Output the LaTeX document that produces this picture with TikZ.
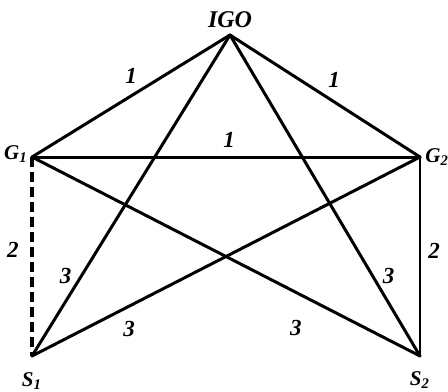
\documentclass[tikz,border=0pt]{standalone}
\usepackage{fontspec}
\setmainfont{Liberation Serif}
\usetikzlibrary{positioning}
\tikzset{
  kante/.style={line width=1.5pt, draw=black, line cap=round},
  kanted/.style={line width=1.6pt, draw=black, dash pattern=on 5pt off 2.5pt},
  kantes/.style={line width=1pt, draw=black},
  gew/.style={font=\fontsize{11.5}{13}\selectfont\bfseries\itshape, inner sep=0pt},
  knt/.style={font=\fontsize{10.5}{12}\selectfont\bfseries\itshape, inner sep=0pt},
  kntgr/.style={font=\fontsize{12}{14}\selectfont\bfseries\itshape, inner sep=0pt},
}

\begin{document}
\begin{tikzpicture}[x=0.5pt, y=-0.5pt]
  \useasboundingbox (0,0) rectangle (448,391);
  % Eckpunkte
  \coordinate (igo) at (230,35);
  \coordinate (g1) at (32,157);
  \coordinate (g2) at (420,157);
  \coordinate (s1) at (32,356);
  \coordinate (s2) at (420,356);
  % Beschriftung der Eckpunkte
  \node[kntgr, above=3.5pt of igo] (tigo) {IGO};
  \node[knt, left=2pt of g1, yshift=1.5pt] (tg1) {G\textsubscript{1}};
  \node[knt, right=2.5pt of g2] (tg2) {G\textsubscript{2}};
  \node[knt, below=8pt of s1] (ts1) {S\textsubscript{1}};
  \node[knt, below=7.5pt of s2] (ts2) {S\textsubscript{2}};
  % Kanten
  \draw[kante] (igo) -- (g1) node[gew, midway, yshift=10pt] (w1) {1};
  \draw[kante] (igo) -- (g2) node[gew, midway, xshift=4.5pt, yshift=8pt] (w2) {1};
  \draw[kante] (g1) -- (g2) node[gew, midway, xshift=1.5pt, yshift=8.5pt] (w3) {1};
  \draw[kanted] (g1) -- (s1) node[gew, midway, xshift=-9.5pt, yshift=3.5pt] (w4) {2};
  \draw[kantes] (g2) -- (s2) node[gew, midway, xshift=7pt, yshift=3pt] (w5) {2};
  \draw[kante] (igo) -- (s1) node[gew, pos=0.75, xshift=-8pt] (w6) {3};
  \draw[kante] (igo) -- (s2) node[gew, pos=0.75, xshift=8pt] (w7) {3};
  \draw[kante] (g2) -- (s1) node[gew, pos=0.75, yshift=-11.5pt] (w8) {3};
  \draw[kante] (g1) -- (s2) node[gew, pos=0.68, yshift=-18pt] (w9) {3};
\end{tikzpicture}
\end{document}
